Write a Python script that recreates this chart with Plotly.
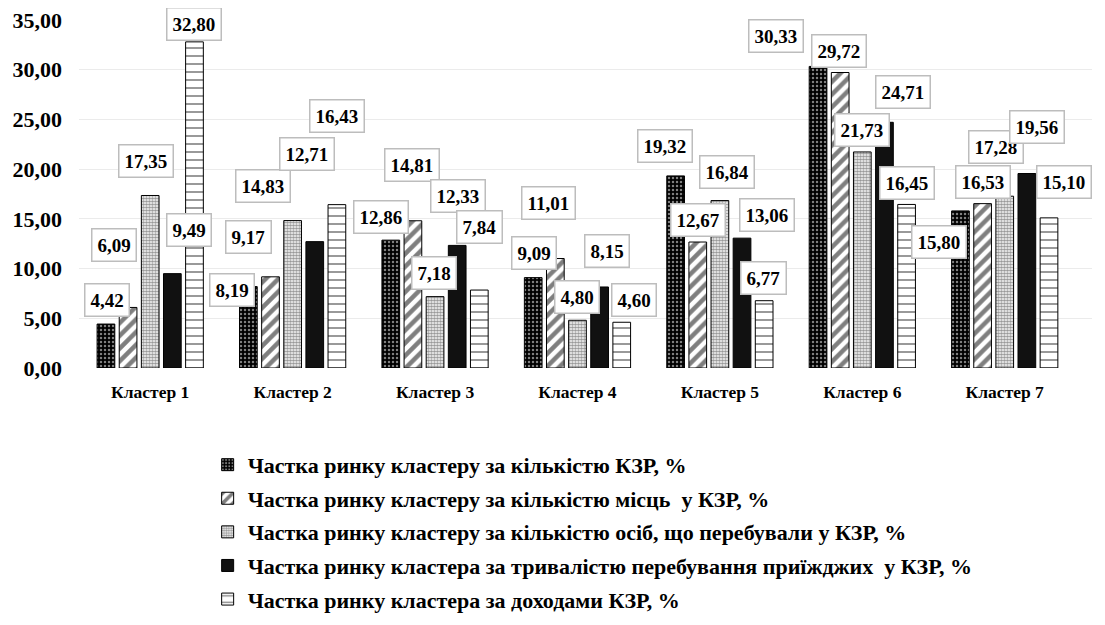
import plotly.graph_objects as go

categories = ["Кластер 1", "Кластер 2", "Кластер 3", "Кластер 4", "Кластер 5", "Кластер 6", "Кластер 7"]
series_names = [
    "Частка ринку кластеру за кількістю КЗР, %",
    "Частка ринку кластеру за кількістю місць  у КЗР, %",
    "Частка ринку кластеру за кількістю осіб, що перебували у КЗР, %",
    "Частка ринку кластера за тривалістю перебування приїжджих  у КЗР, %",
    "Частка ринку кластера за доходами КЗР, %",
]
s1 = [4.42, 8.19, 12.86, 9.09, 19.32, 30.33, 15.80]
s2 = [6.09, 9.17, 14.81, 11.01, 12.67, 29.72, 16.53]
s3 = [17.35, 14.83, 7.18, 4.80, 16.84, 21.73, 17.28]
s4 = [9.49, 12.71, 12.33, 8.15, 13.06, 24.71, 19.56]
s5 = [32.80, 16.43, 7.84, 4.60, 6.77, 16.45, 15.10]
series_values = [s1, s2, s3, s4, s5]

# label box offsets (pixels) from each bar top, as placed in the original
label_dx = [
    [1, -16, -9.6, 0.6, -11, -42, -21],
    [-14.5, -22, -1, -7, 0.3, -1.5, 0],
    [-4, -30, -0.6, -0.4, 7, 0, -8.8],
    [16.5, -8, 1, 7, 25, 18.5, 10],
    [0, 0, 0.4, 12.6, -1, 0, 15],
]
label_dy = [
    [24, -3.4, 23, 24.6, 30, 30, -31],
    [62, 40, 55.7, 55.5, 22, 21.5, 21.6],
    [34.5, 34.5, 23.6, 23.3, 28.6, 22, 49],
    [43.6, 87.6, 49.4, 36, 23, 30, 46.5],
    [18, 88.6, 63, 22.3, 22.7, 21.4, 36],
]

FONT = "Liberation Serif"
bargap = 0.223
bargroupgap = 0.2

patterns = [
    dict(shape=".", fgcolor="white", bgcolor="black", size=4, solidity=0.3),
    dict(shape="/", fgcolor="black", bgcolor="white", size=9, solidity=0.5),
    dict(shape=".", fgcolor="#333333", bgcolor="white", size=3, solidity=0.65),
    dict(shape="", fgcolor="#111111", bgcolor="#111111"),
    dict(shape="-", fgcolor="black", bgcolor="white", size=8, solidity=0.2),
]
colors = ["black", "white", "white", "#111111", "white"]

fig = go.Figure()
for i, (name, vals) in enumerate(zip(series_names, series_values)):
    fig.add_trace(go.Bar(
        x=categories, y=vals, name=name,
        legendgroup=f"g{i}",
        marker=dict(color=colors[i], pattern=patterns[i],
                    line=dict(color="black", width=1)),
        hoverinfo="skip",
    ))

slot = (1 - bargap) / len(series_values)
annotations = []
for i, vals in enumerate(series_values):
    for c, v in enumerate(vals):
        annotations.append(dict(
            x=c + (i - 2) * slot, y=v, xref="x", yref="y",
            text="<b>" + f"{v:.2f}".replace(".", ",") + "</b>",
            showarrow=False, xanchor="center", yanchor="middle",
            xshift=label_dx[i][c], yshift=label_dy[i][c],
            font=dict(family=FONT, size=19, color="black"),
            bgcolor="white", bordercolor="#bdbdbd", borderwidth=1.5, borderpad=5,
        ))

fig.update_layout(
    width=1097, height=617,
    margin=dict(l=71, r=13, t=12, b=257, autoexpand=False),
    paper_bgcolor="white", plot_bgcolor="white",
    barmode="group", bargap=bargap, bargroupgap=bargroupgap,
    separators=",.",
    annotations=annotations,
    showlegend=True,
    font=dict(family=FONT, color="black"),
    legend=dict(
        x=0.127, y=-0.218, xanchor="left", yanchor="top",
        orientation="v", traceorder="grouped", tracegroupgap=2,
        font=dict(family=FONT, size=22, color="black", weight="bold"),
        itemwidth=30,
    ),
    xaxis=dict(
        showgrid=False, showline=False, ticks="", ticklabelstandoff=11,
        tickfont=dict(family=FONT, size=17.5, color="black", weight="bold"),
    ),
    yaxis=dict(
        range=[0, 35], dtick=5, tickformat=".2f",
        showgrid=True, gridcolor="#ebebeb", gridwidth=1,
        zeroline=False, showline=False, ticks="", ticklabelstandoff=16,
        ticklabeloverflow="allow",
        tickfont=dict(family=FONT, size=22, color="black", weight="bold"),
    ),
)

fig.write_html("out.html")
